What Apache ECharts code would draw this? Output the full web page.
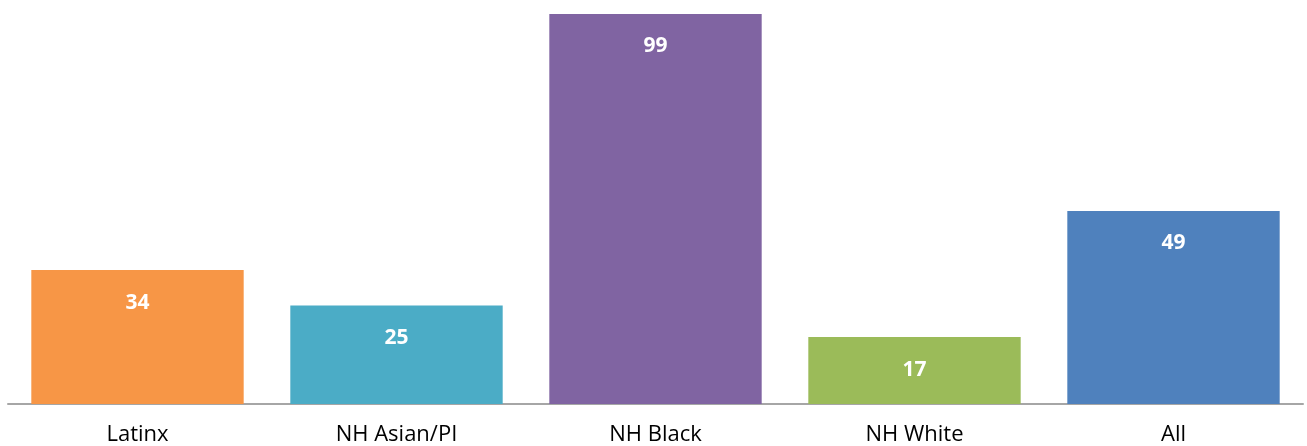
<!DOCTYPE html>
<html><head><meta charset="utf-8">
<script src="https://cdn.jsdelivr.net/npm/echarts@6/dist/echarts.min.js"></script>
<style>html,body{margin:0;padding:0;background:#fff}#c{width:1307px;height:446px}</style>
</head><body><div id="c"></div>
<script>
const categories = ["Latinx", "NH Asian/PI", "NH Black", "NH White", "All"];
const values = [34, 25, 99, 17, 49];
const colors = ["#F79646", "#4BACC6", "#8064A2", "#9BBB59", "#4F81BD"];

const chart = echarts.init(document.getElementById('c'), null, {renderer: 'canvas'});
chart.setOption({
  animation: false,
  grid: {left: 8, right: 4, top: 14, bottom: 41, containLabel: false},
  xAxis: {
    type: 'category', data: categories,
    axisLine: {show: true, lineStyle: {color: '#A6A6A6', width: 2}},
    axisTick: {show: false},
    axisLabel: {color: '#000', fontSize: 22, fontFamily: 'Open Sans', margin: 20}
  },
  yAxis: {type: 'value', min: 0, max: 99, show: false, splitLine: {show: false}},
  series: [{
    type: 'bar', barCategoryGap: '18%',
    data: values.map((v, i) => ({value: v, itemStyle: {color: colors[i]}})),
    label: {show: true, position: 'insideTop', distance: 22, color: '#fff', fontWeight: 'bold', fontSize: 21, fontFamily: 'Open Sans'}
  }]
});
</script></body></html>
